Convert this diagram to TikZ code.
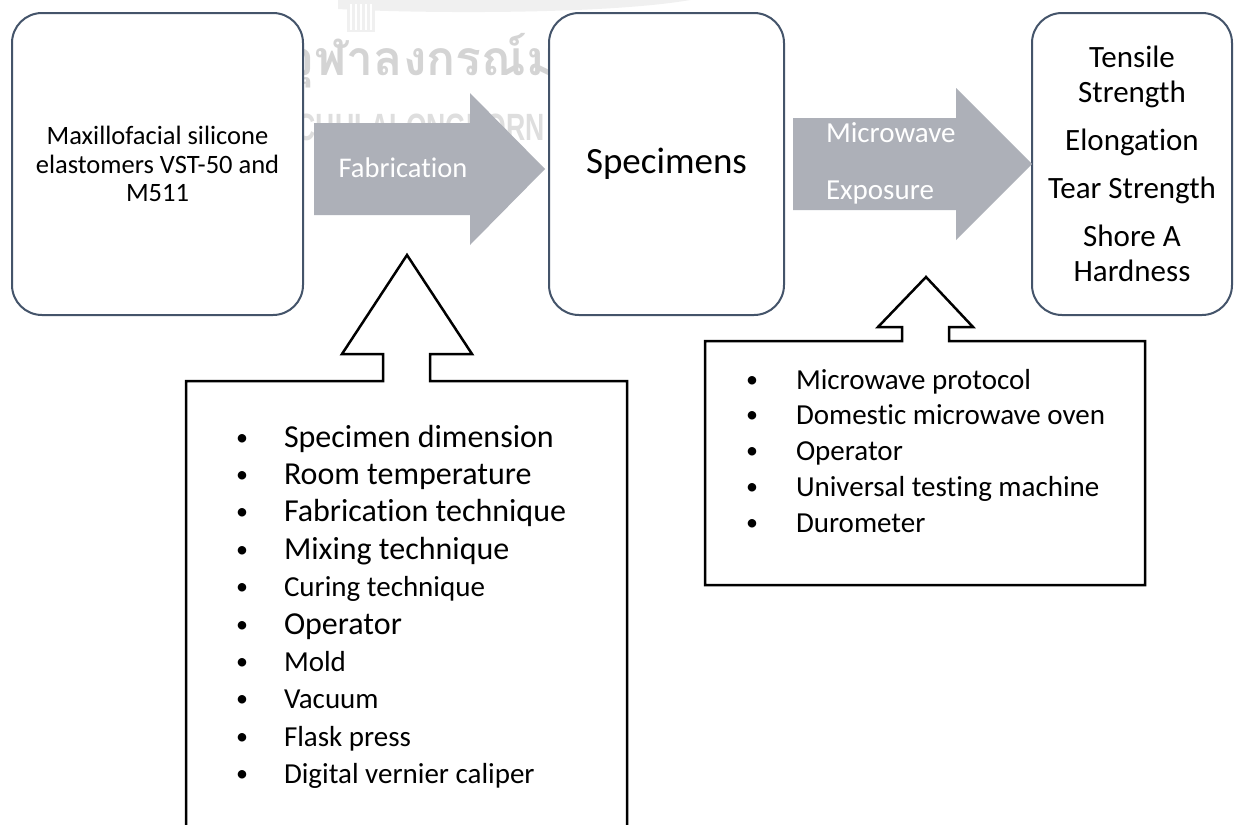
\documentclass[tikz,border=0pt]{standalone}
\usepackage{fontspec}
\setmainfont{Carlito}[Ligatures=NoCommon]
\newfontfamily\thaiwm[Script=Thai]{Loma}
\newfontfamily\latwm{Liberation Sans}
\usetikzlibrary{calc}
\definecolor{arrowgray}{RGB}{173,176,184}
\definecolor{boxline}{RGB}{68,84,106}
\definecolor{wmthai}{RGB}{212,212,212}
\definecolor{wmlat}{RGB}{222,222,222}
\definecolor{wmlogo}{RGB}{240,240,240}
\tikzset{
  roundbox/.style={draw=boxline, line width=2pt, fill=white, rounded corners=30pt,
    inner sep=0pt, outer sep=0pt, align=center},
  blockarrow/.style={fill=arrowgray},
  arrowlabel/.style={text=white, inner sep=0pt, outer sep=0pt},
  callout/.style={draw=black, line width=2.5pt, fill=white, line join=miter},
  itemtext/.style={anchor=base west, inner sep=0pt, outer sep=0pt},
  bulletmark/.style={anchor=base, inner sep=0pt, outer sep=0pt},
  watermark/.style={inner sep=0pt, outer sep=0pt},
}
\begin{document}
\begin{tikzpicture}[x=1pt,y=-1pt]
\useasboundingbox (0,0) rectangle (1235,825);
\clip (0,0) rectangle (1235,825);
\fill[white] (0,0) rectangle (1235,825);

% faint watermark (behind everything)
\fill[wmlogo] (338,0) -- (690,0) .. controls (610,14) and (430,14) .. (338,9) -- cycle;
\fill[wmlogo] (347,0) rectangle (375,32);
\foreach \k in {0,...,4} \draw[white, line width=1.5pt] (351+5*\k,4) -- (351+5*\k,30);
\node[watermark, anchor=base west, text=wmthai, font=\thaiwm\bfseries\fontsize{48}{52}\selectfont] (wmth) at (286,75) {จุฬาลงกรณ์มห};
\node[watermark, anchor=base east, text=wmlat] (wmen) at (545,140)
  {\scalebox{0.7}[1]{\latwm\bfseries\fontsize{38}{40}\selectfont CHULALONGKORN}};

% main boxes
\node[roundbox, minimum width=291pt, minimum height=302pt,
  font=\fontsize{26.5}{28.5}\selectfont] (src) at (157.5,164)
  {Maxillofacial silicone\\elastomers VST-50 and\\M511};
\node[roundbox, minimum width=235pt, minimum height=302pt,
  font=\fontsize{37}{42}\selectfont] (spec) at (666.5,164) {Specimens};
\node[roundbox, minimum width=200pt, minimum height=302pt,
  font=\fontsize{31}{35}\selectfont] (res) at (1132,164)
  {Tensile\\Strength\\[13pt]Elongation\\[13pt]Tear Strength\\[13pt]Shore A\\Hardness};

% block arrows
\fill[blockarrow] ($(src.east)+(11,-41)$) -- ($(spec.west)+(-79,-41)$)
  -- ($(spec.west)+(-79,-71)$) -- ($(spec.west)+(-4,5)$)
  -- ($(spec.west)+(-79,81)$) -- ($(spec.west)+(-79,51)$)
  -- ($(src.east)+(11,51)$) -- cycle;
\node[arrowlabel, font=\fontsize{28.5}{32}\selectfont] (fablabel) at (403,168) {Fabrication};

\fill[blockarrow] ($(spec.east)+(9,-46)$) -- ($(res.west)+(-76,-46)$)
  -- ($(res.west)+(-76,-76)$) -- (res.west)
  -- ($(res.west)+(-76,76)$) -- ($(res.west)+(-76,46)$)
  -- ($(spec.east)+(9,46)$) -- cycle;
\node[arrowlabel, anchor=west, font=\fontsize{29}{32}\selectfont] (mwlabel1) at (826,133) {Microwave};
\node[arrowlabel, anchor=west, font=\fontsize{29}{32}\selectfont] (mwlabel2) at (826,193) {Exposure};

% callout boxes
\draw[callout] (186,860) -- (186,381) -- (383,381) -- (383,354) -- (342,354)
  -- (407,255) coordinate (fabtip) -- (472,354) -- (430,354) -- (430,381)
  -- (627,381) -- (627,860);
\draw[callout] (705,341) -- (902,341) -- (902,327) -- (878,327)
  -- (926,277) coordinate (mwtip) -- (973,327) -- (949,327) -- (949,341)
  -- (1145,341) -- (1145,585) -- (705,585) -- cycle;

% fabrication factors
\foreach \s/\t [count=\i] in {32/Specimen dimension, 32/Room temperature,
    32/Fabrication technique, 32/Mixing technique, 29/Curing technique,
    32/Operator, 29/Mold, 29/Vacuum, 29/Flask press, 29/Digital vernier caliper}{
  \pgfmathsetmacro{\yb}{447+37.4*(\i-1)}
  \node[bulletmark, font=\fontsize{24}{28}\selectfont] (fb\i) at (242,\yb-2) {•};
  \node[itemtext, font=\fontsize{\s}{36}\selectfont] (ft\i) at (284,\yb) {\t};
}

% microwave factors
\foreach \t [count=\i] in {Microwave protocol, Domestic microwave oven, Operator,
    Universal testing machine, Durometer}{
  \pgfmathsetmacro{\yb}{389+35.8*(\i-1)}
  \node[bulletmark, font=\fontsize{24}{28}\selectfont] (mb\i) at (752,\yb-2) {•};
  \node[itemtext, font=\fontsize{29}{34}\selectfont] (mt\i) at (796,\yb) {\t};
}
\end{tikzpicture}
\end{document}
